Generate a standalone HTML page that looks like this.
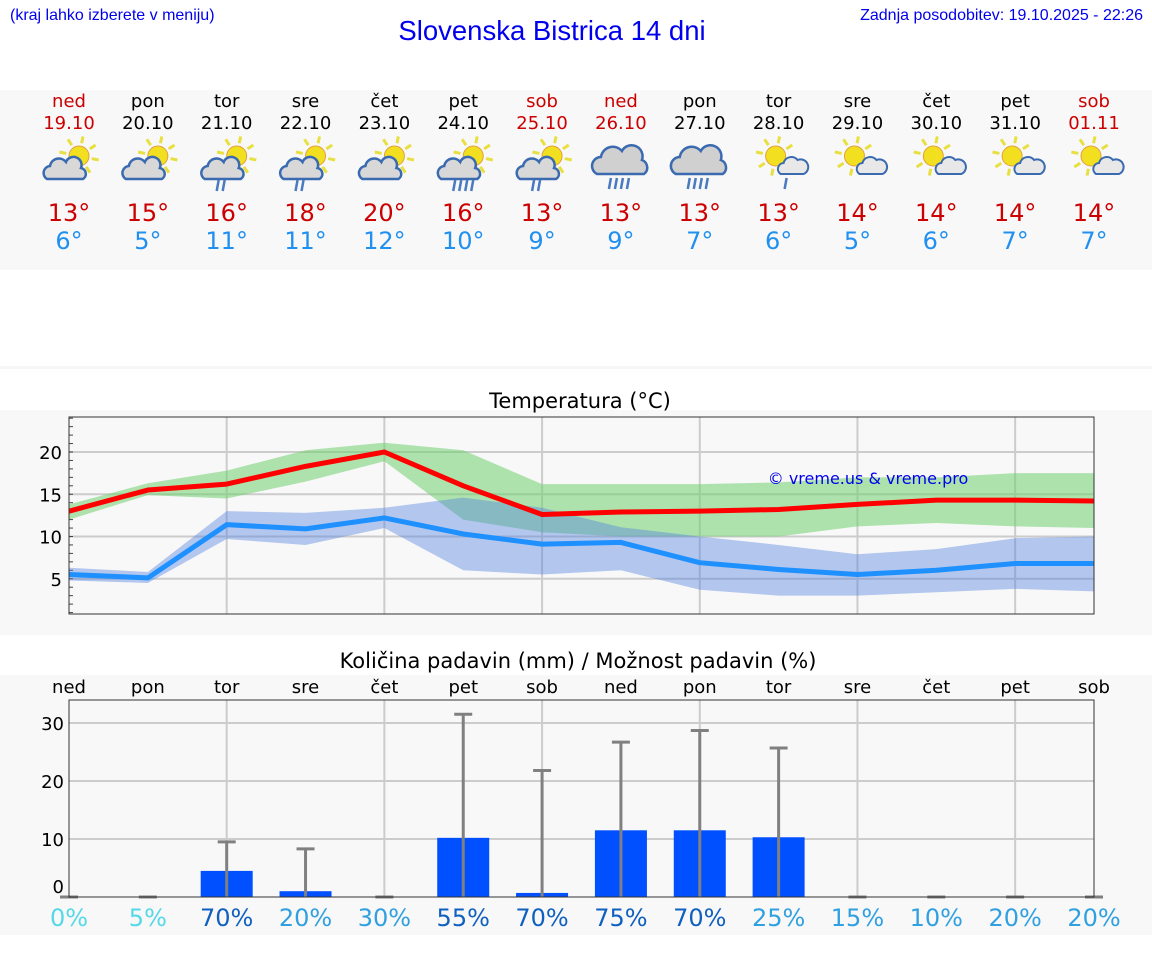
<!DOCTYPE html>
<html><head><meta charset="utf-8"><style>
body{margin:0;width:1152px;height:975px;background:#fff;font-family:"DejaVu Sans","Liberation Sans",sans-serif;position:relative;overflow:hidden}
.abs{position:absolute}
</style></head><body>
<div class="abs" style="left:10px;top:7px;font:16px 'Liberation Sans',sans-serif;color:#0000ee">(kraj lahko izberete v meniju)</div>
<div class="abs" style="left:0;width:1104px;top:15px;text-align:center;font:27.5px 'Liberation Sans',sans-serif;color:#0000ee">Slovenska Bistrica 14 dni</div>
<div class="abs" style="right:9px;top:7px;font:16px 'Liberation Sans',sans-serif;color:#0000ee">Zadnja posodobitev: 19.10.2025 - 22:26</div>
<svg id="s" class="abs" style="left:0;top:0" width="1152" height="975"></svg>
<script>
const days=["ned","pon","tor","sre","čet","pet","sob","ned","pon","tor","sre","čet","pet","sob"];
const dates=["19.10","20.10","21.10","22.10","23.10","24.10","25.10","26.10","27.10","28.10","29.10","30.10","31.10","01.11"];
const hiTemps=[13,15,16,18,20,16,13,13,13,13,14,14,14,14];
const loTemps=[6,5,11,11,12,10,9,9,7,6,5,6,7,7];
const icons=[0,0,2,2,0,4,2,5,5,6,7,7,7,7];
const maxLine=[13,15.5,16.2,18.3,20,16,12.6,12.9,13.0,13.2,13.8,14.3,14.3,14.2];
const maxHi=[13.8,16.3,17.8,20.2,21.1,20.2,16.2,16.2,16.2,16.4,17,17,17.5,17.5];
const maxLo=[12,14.9,14.5,16.5,18.9,12,10.5,10,10,10,11.2,11.6,11.2,11];
const minLine=[5.5,5.1,11.4,10.9,12.2,10.3,9.1,9.3,6.9,6.1,5.5,6,6.8,6.8];
const minHi=[6.3,5.8,13,12.8,13.4,14.6,13.4,11.1,10,9,7.9,8.5,9.8,10];
const minLo=[4.8,4.5,9.7,9,11,6,5.5,6,3.7,3,3,3.4,3.8,3.5];
const tempTicks=[5,10,15,20];
const precip=[0,0,4.5,1,0,10.2,0.7,11.5,11.5,10.3,0,0,0,0];
const precipMax=[0,0,9.5,8.3,0,31.5,21.8,26.7,28.7,25.7,0,0,0,0];
const chance=[0,5,70,20,30,55,70,75,70,25,15,10,20,20];
const precipTicks=[0,10,20,30];

const S=document.getElementById('s');const NS="http://www.w3.org/2000/svg";
function E(t,a,p){const e=document.createElementNS(NS,t);for(const k in a)e.setAttribute(k,a[k]);(p||S).appendChild(e);return e;}
function T(x,y,txt,a){const e=E('text',Object.assign({x:x,y:y,'text-anchor':'middle','font-family':'DejaVu Sans, Liberation Sans, sans-serif'},a));e.textContent=txt;return e;}
const X=i=>69+i*(1025/13);
const yT=v=>621-v*8.45;
const yP=v=>897-v*5.8;
let r;
r=E('rect',{x:0,y:90,width:1152,height:180,fill:'#f8f8f8'});
E('rect',{x:0,y:366,width:1152,height:3,fill:'#f6f6f6'});
r=E('rect',{x:0,y:410,width:1152,height:225,fill:'#f8f8f8'});
r=E('rect',{x:0,y:675,width:1152,height:260,fill:'#f8f8f8'});

function cloud(g,cx,cy){E('path',{d:`M${cx-18},${cy+10} a7 7 0 0 1 3,-13 a9 9 0 0 1 16,-4 a8 8 0 0 1 15,6 a6 6 0 0 1 2,11 z`,fill:'#d8d8d8',stroke:'#3a6ab0','stroke-width':2.5},g);}
function sun(g,cx,cy,rad){for(let k=0;k<8;k++){const a=k*Math.PI/4+0.2;E('line',{x1:cx+Math.cos(a)*(rad+3),y1:cy+Math.sin(a)*(rad+3),x2:cx+Math.cos(a)*(rad+10),y2:cy+Math.sin(a)*(rad+10),stroke:'#e8e040','stroke-width':3},g);}E('circle',{cx:cx,cy:cy,r:rad,fill:'#f2e020',stroke:'#e0a040','stroke-width':1},g);}
function drops(g,cx,cy,n){for(let k=0;k<n;k++)E('line',{x1:cx+k*6+2,y1:cy,x2:cx+k*6,y2:cy+11,stroke:'#4a7ac0','stroke-width':2.5},g);}
for(let i=0;i<14;i++){
  const x=X(i);const red=(days[i]==="ned"||days[i]==="sob");
  let t=T(x,107,days[i],{'font-size':18,fill:red?'#cc0000':'#000'});
  t=T(x,129,dates[i],{'font-size':18,fill:red?'#cc0000':'#000'});
  const g=E('g',{});
  const k=icons[i];
  if(k<=4){sun(g,x+10,156,10);cloud(g,x-4,169);if(k>0)drops(g,x-10,180,k);}
  else if(k==5){E('path',{d:`M${x-24},${174} a9 9 0 0 1 4,-17 a12 12 0 0 1 21,-6 a11 11 0 0 1 20,9 a8 8 0 0 1 2,14 z`,fill:'#d0d0d0',stroke:'#3a6ab0','stroke-width':2.5},g);drops(g,x-12,178,4);}
  else {sun(g,x-3,156,10);E('path',{d:`M${x+2},${174} a6 6 0 0 1 3,-11 a8 8 0 0 1 14,-3 a6 6 0 0 1 6,14 z`,fill:'#e8e8e8',stroke:'#3a6ab0','stroke-width':2},g);if(k==6)drops(g,x+6,178,1);}
  t=T(x,221,hiTemps[i]+'°',{'font-size':24,fill:'#cc0000'});
  t=T(x,249,loTemps[i]+'°',{'font-size':24,fill:'#2090f0'});
}
T(580,408,'Temperatura (°C)',{'font-size':21,fill:'#000'});
E('rect',{x:69,y:417,width:1025,height:197,fill:'#f8f8f8'});
for(let i=2;i<14;i+=2)E('line',{x1:X(i),y1:417,x2:X(i),y2:614,stroke:'#ccc','stroke-width':2});
tempTicks.forEach(v=>{E('line',{x1:69,y1:yT(v),x2:1094,y2:yT(v),stroke:'#ccc','stroke-width':2});const t=T(62,yT(v)+7,v,{'font-size':18,'text-anchor':'end',fill:'#000'});});
for(let v=1;v<=24;v++)E('line',{x1:69,y1:yT(v),x2:73,y2:yT(v),stroke:'#444','stroke-width':1});
function band(hi,lo,fill,op,name){let d='M';hi.forEach((v,i)=>d+=X(i)+','+yT(v)+' L');for(let i=13;i>=0;i--)d+=X(i)+','+yT(lo[i])+(i?' L':' Z');const p=E('path',{d:d,fill:fill,'fill-opacity':op});}
function line(vals,col,name){const p=E('polyline',{points:vals.map((v,i)=>X(i)+','+yT(v)).join(' '),fill:'none',stroke:col,'stroke-width':5,'stroke-linejoin':'round'});}
band(maxHi,maxLo,'#70d070',0.55,'max-temp-band');
band(minHi,minLo,'#5080e0',0.42,'min-temp-band');
line(maxLine,'#ff0000','max-temp-line');line(minLine,'#1e90ff','min-temp-line');
E('rect',{x:69,y:417,width:1025,height:197,fill:'none',stroke:'#333','stroke-width':1});
T(868,484,'© vreme.us & vreme.pro',{'font-size':16,fill:'#0000ee'});
T(578,668,'Količina padavin (mm) / Možnost padavin (%)',{'font-size':21,fill:'#000'});
E('rect',{x:69,y:700,width:1025,height:197,fill:'#f8f8f8'});
for(let i=2;i<14;i+=2)E('line',{x1:X(i),y1:700,x2:X(i),y2:897,stroke:'#ccc','stroke-width':2});
precipTicks.forEach(v=>{if(v>0)E('line',{x1:69,y1:yP(v),x2:1094,y2:yP(v),stroke:'#ccc','stroke-width':2});const t=T(64,(v?yP(v):886)+7,v,{'font-size':18,'text-anchor':'end',fill:'#000'});});
const cc=p=>p<=5?'#55d8e8':(p<=30?'#30a0e0':'#1060c0');
for(let i=0;i<14;i++){
  const x=X(i);
  let t=T(x,693,days[i],{'font-size':18,fill:'#000'});
  if(precip[i]>0){const b=E('rect',{x:x-26,y:yP(precip[i]),width:52,height:897-yP(precip[i]),fill:'#0050ff'});}
  const g=E('g',{});
  E('line',{x1:x,y1:yP(precipMax[i]),x2:x,y2:897,stroke:'#808080','stroke-width':3},g);
  E('line',{x1:x-9,y1:yP(precipMax[i]),x2:x+9,y2:yP(precipMax[i]),stroke:'#808080','stroke-width':3},g);
  t=T(x,926,chance[i]+'%',{'font-size':24,fill:cc(chance[i])});
}
E('rect',{x:69,y:700,width:1025,height:197,fill:'none',stroke:'#333','stroke-width':1});
</script>
</body></html>
